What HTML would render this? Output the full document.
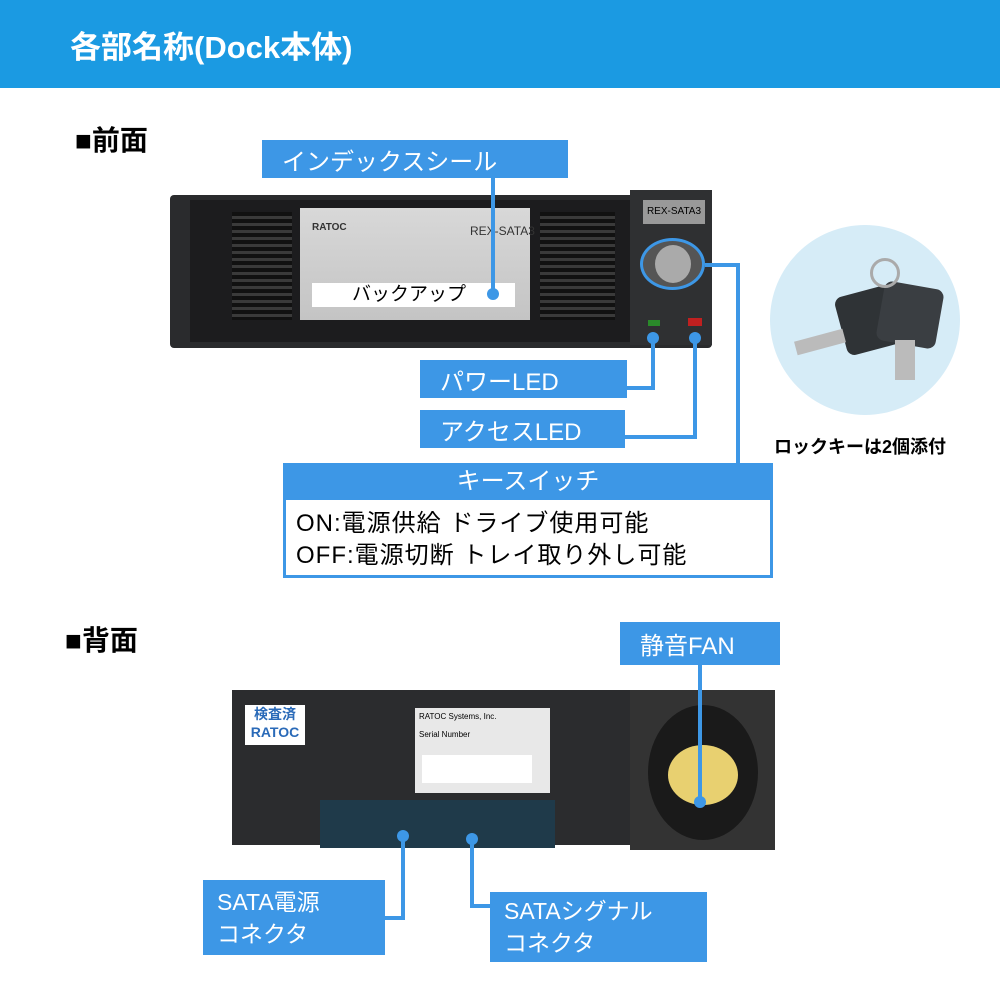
<!DOCTYPE html>
<html><head><meta charset="utf-8"><style>
*{margin:0;padding:0;box-sizing:border-box}
body{width:1000px;height:1000px;position:relative;background:#fff;font-family:"Liberation Sans","Noto Sans CJK JP",sans-serif;overflow:hidden}
.a{position:absolute}
.lb{position:absolute;background:#3d97e6;color:#fff;font-size:24px;display:flex;align-items:center;padding-left:20px}
.ln{position:absolute;background:#3d97e6}
</style></head><body>
<div class="a" style="left:0;top:0;width:1000px;height:88px;background:#1b9ae2"></div>
<div class="a" style="left:70px;top:22px;color:#fff;font-size:31px;font-weight:bold">各部名称(Dock本体)</div>
<div class="a" style="left:75px;top:119px;font-size:28px;font-weight:bold">■前面</div>

<!-- front device -->
<div class="a" style="left:170px;top:195px;width:542px;height:153px;background:#2a2b2d;border-radius:4px"></div>
<div class="a" style="left:190px;top:200px;width:440px;height:142px;background:#1c1c1e"></div>
<div class="a" style="left:232px;top:212px;width:60px;height:108px;background:repeating-linear-gradient(#111 0 4px,#3a3a3a 4px 7px)"></div>
<div class="a" style="left:540px;top:212px;width:75px;height:108px;background:repeating-linear-gradient(#111 0 4px,#3a3a3a 4px 7px)"></div>
<div class="a" style="left:300px;top:208px;width:230px;height:112px;background:linear-gradient(#d8d8d8,#c4c4c4)"></div>
<div class="a" style="left:312px;top:222px;font-size:10px;font-weight:bold;color:#333">RATOC</div>
<div class="a" style="left:470px;top:224px;font-size:12px;color:#333;white-space:nowrap">REX-SATA3</div>
<div class="a" style="left:312px;top:283px;width:203px;height:24px;background:#fff;font-size:19px;padding-left:40px;line-height:24px">バックアップ</div>
<div class="a" style="left:630px;top:190px;width:82px;height:155px;background:#2f3032"></div>
<div class="a" style="left:643px;top:200px;width:62px;height:24px;background:#999;font-size:10px;line-height:24px;text-align:center;white-space:nowrap">REX-SATA3</div>
<div class="a" style="left:640px;top:238px;width:65px;height:52px;border-radius:50%;background:#555;border:3px solid #3d97e6"></div>
<div class="a" style="left:655px;top:245px;width:36px;height:38px;border-radius:50%;background:#aaa"></div>
<div class="a" style="left:648px;top:320px;width:12px;height:6px;background:#2a8a2a"></div>
<div class="a" style="left:688px;top:318px;width:14px;height:8px;background:#c02020"></div>

<div class="lb" style="left:262px;top:140px;width:306px;height:38px">インデックスシール</div>
<div class="ln" style="left:491px;top:178px;width:4px;height:115px"></div>
<div class="a" style="left:487px;top:288px;width:12px;height:12px;border-radius:50%;background:#3d97e6"></div>

<div class="lb" style="left:420px;top:360px;width:207px;height:38px">パワーLED</div>
<div class="lb" style="left:420px;top:410px;width:205px;height:38px">アクセスLED</div>
<div class="ln" style="left:651px;top:334px;width:4px;height:56px"></div>
<div class="ln" style="left:625px;top:386px;width:30px;height:4px"></div>
<div class="a" style="left:647px;top:332px;width:12px;height:12px;border-radius:50%;background:#3d97e6"></div>
<div class="ln" style="left:693px;top:334px;width:4px;height:105px"></div>
<div class="ln" style="left:623px;top:435px;width:74px;height:4px"></div>
<div class="a" style="left:689px;top:332px;width:12px;height:12px;border-radius:50%;background:#3d97e6"></div>
<div class="ln" style="left:705px;top:263px;width:35px;height:4px"></div>
<div class="ln" style="left:736px;top:263px;width:4px;height:202px"></div>

<div class="a" style="left:283px;top:463px;width:490px;height:115px;border:3px solid #3d97e6;background:#fff"></div>
<div class="a" style="left:283px;top:463px;width:490px;height:37px;background:#3d97e6;color:#fff;font-size:24px;text-align:center;line-height:37px">キースイッチ</div>
<div class="a" style="left:296px;top:508px;font-size:24px;line-height:32px;letter-spacing:1px">ON:電源供給 ドライブ使用可能<br>OFF:電源切断 トレイ取り外し可能</div>

<!-- keys -->
<div class="a" style="left:770px;top:225px;width:190px;height:190px;border-radius:50%;background:#d6ecf7"></div>
<div class="a" style="left:840px;top:290px;width:60px;height:60px;background:#2f3336;border-radius:8px;transform:rotate(-15deg)"></div>
<div class="a" style="left:880px;top:285px;width:60px;height:60px;background:#3a3e42;border-radius:8px;transform:rotate(10deg)"></div>
<div class="a" style="left:795px;top:335px;width:50px;height:14px;background:#bbb;transform:rotate(-15deg)"></div>
<div class="a" style="left:895px;top:340px;width:20px;height:40px;background:#bbb"></div>
<div class="a" style="left:870px;top:258px;width:30px;height:30px;border:3px solid #aaa;border-radius:50%"></div>
<div class="a" style="left:774px;top:433px;font-size:18px;font-weight:bold">ロックキーは2個添付</div>

<div class="a" style="left:65px;top:619px;font-size:28px;font-weight:bold">■背面</div>
<!-- back device -->
<div class="a" style="left:232px;top:690px;width:400px;height:155px;background:#2b2c2e"></div>
<div class="a" style="left:320px;top:800px;width:235px;height:48px;background:#1f3a4a"></div>
<div class="a" style="left:245px;top:705px;width:60px;height:40px;background:#fff;font-size:14px;color:#2a6ab8;text-align:center;line-height:18px;font-weight:bold">検査済<br>RATOC</div>
<div class="a" style="left:415px;top:708px;width:135px;height:85px;background:#e8e8e8;font-size:8px;padding:4px">RATOC Systems, Inc.<br><br>Serial Number</div>
<div class="a" style="left:422px;top:755px;width:110px;height:28px;background:#fff"></div>
<div class="a" style="left:630px;top:690px;width:145px;height:160px;background:#333"></div>
<div class="a" style="left:648px;top:705px;width:110px;height:135px;border-radius:50%;background:#1a1a1a"></div>
<div class="a" style="left:668px;top:745px;width:70px;height:60px;border-radius:50%;background:#e8d070"></div>

<div class="lb" style="left:620px;top:622px;width:160px;height:43px">静音FAN</div>
<div class="ln" style="left:698px;top:665px;width:4px;height:135px"></div>
<div class="a" style="left:694px;top:796px;width:12px;height:12px;border-radius:50%;background:#3d97e6"></div>

<div class="lb" style="left:203px;top:880px;width:182px;height:75px;font-size:23px;line-height:32px;padding-left:14px">SATA電源<br>コネクタ</div>
<div class="ln" style="left:401px;top:835px;width:4px;height:85px"></div>
<div class="ln" style="left:385px;top:916px;width:20px;height:4px"></div>
<div class="a" style="left:397px;top:830px;width:12px;height:12px;border-radius:50%;background:#3d97e6"></div>

<div class="lb" style="left:490px;top:892px;width:217px;height:70px;font-size:23px;line-height:32px;padding-left:14px">SATAシグナル<br>コネクタ</div>
<div class="ln" style="left:470px;top:838px;width:4px;height:70px"></div>
<div class="ln" style="left:470px;top:904px;width:20px;height:4px"></div>
<div class="a" style="left:466px;top:833px;width:12px;height:12px;border-radius:50%;background:#3d97e6"></div>
</body></html>
